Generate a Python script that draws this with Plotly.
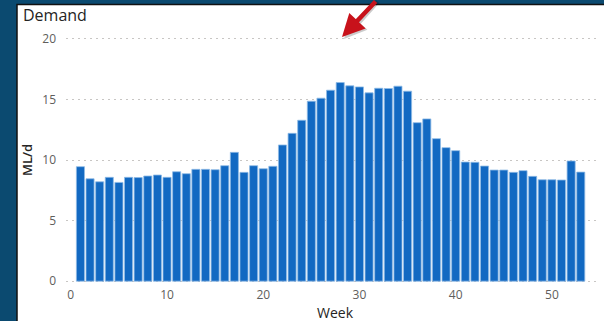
import plotly.graph_objects as go

weeks = list(range(1, 54))
demand = [9.45, 8.45, 8.2, 8.57, 8.15, 8.57, 8.55, 8.68, 8.76, 8.57,
          9.03, 8.87, 9.23, 9.23, 9.2, 9.53, 10.63, 8.98, 9.53, 9.28,
          9.48, 11.24, 12.2, 13.28, 14.85, 15.1, 15.76, 16.39, 16.12, 16.03,
          15.54, 15.92, 15.9, 16.09, 15.68, 13.08, 13.39, 11.76, 11.02, 10.77,
          9.83, 9.81, 9.5, 9.17, 9.17, 8.98, 9.12, 8.65, 8.37, 8.37,
          8.35, 9.92, 9.0]
x_ticks = [0, 10, 20, 30, 40, 50]
y_ticks = [0, 5, 10, 15, 20]

W, H = 604, 321
L, R, T, B = 66, 4, 37, 38
PW, PH = W - L - R, H - T - B

def px(x):
    return (x - L) / PW

def py(y):
    return 1 - (y - T) / PH

fig = go.Figure()
fig.add_trace(go.Bar(
    x=weeks, y=demand,
    marker=dict(color="#1269c2", line=dict(color="#8fbbe6", width=0.8)),
    width=0.84,
))

fig.update_layout(
    width=W, height=H,
    margin=dict(l=L, r=R, t=T, b=B, pad=0),
    paper_bgcolor="#0b4a70",
    plot_bgcolor="rgba(0,0,0,0)",
    showlegend=False,
    font=dict(family="Open Sans, sans-serif", color="#605e5c", size=12),
    xaxis=dict(
        range=[-0.5, 55], tickvals=x_ticks, showgrid=False, zeroline=False,
        showline=False, ticks="", tickfont=dict(size=12, color="#605e5c"),
        ticklabelstandoff=3,
    ),
    yaxis=dict(
        range=[-0.15, 20.15], tickvals=y_ticks, showgrid=True, gridcolor="#c8c6c4",
        griddash="1.5px,4.5px", gridwidth=1, zeroline=False, showline=False,
        ticks="", tickfont=dict(size=12, color="#605e5c"), ticklabelstandoff=9,
    ),
    shapes=[
        dict(type="rect", xref="paper", yref="paper", layer="below",
             x0=px(17), x1=px(620), y0=py(340), y1=py(4.5),
             fillcolor="white", line=dict(color="#111111", width=1.5)),
    ],
    annotations=[
        dict(text="Demand", xref="paper", yref="paper", x=px(21), y=py(15),
             xanchor="left", yanchor="middle", showarrow=False,
             font=dict(size=16, color="#252423", family="Open Sans, sans-serif")),
        dict(text="ML/d", xref="paper", yref="paper", x=px(27), y=py(160),
             xanchor="center", yanchor="middle", showarrow=False, textangle=-90,
             font=dict(size=13, color="#252423", family="Open Sans, sans-serif",
                       weight=600)),
        dict(text="Week", xref="paper", yref="paper", x=px(335), y=py(312),
             xanchor="center", yanchor="middle", showarrow=False,
             font=dict(size=14, color="#252423", family="Open Sans, sans-serif")),
        dict(text="", xref="paper", yref="paper", x=px(344), y=py(39),
             ax=35, ay=-42, axref="pixel", ayref="pixel", showarrow=True,
             arrowhead=2, arrowsize=1, arrowwidth=4.5, arrowcolor="rgba(0,0,0,0.2)"),
        dict(text="", xref="paper", yref="paper", x=px(342), y=py(37),
             ax=35, ay=-42, axref="pixel", ayref="pixel", showarrow=True,
             arrowhead=2, arrowsize=1, arrowwidth=4.5, arrowcolor="#c8121b"),
    ],
)

fig.write_html("out.html")
